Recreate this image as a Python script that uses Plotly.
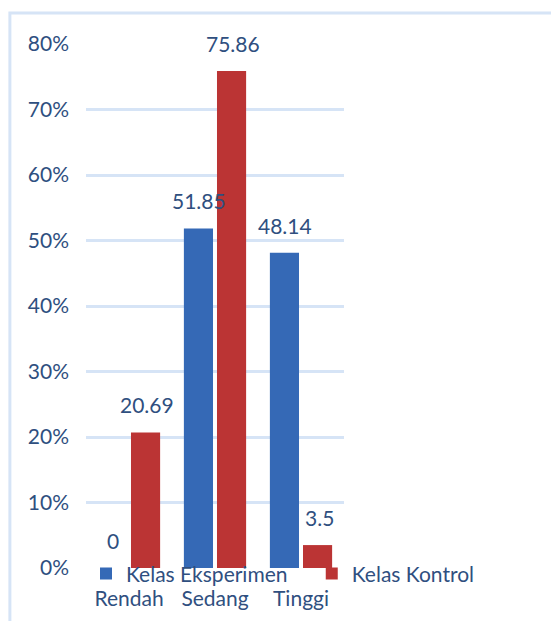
import plotly.graph_objects as go

categories = ["Rendah", "Sedang", "Tinggi"]
eksperimen = [0, 51.85, 48.14]
kontrol = [20.69, 75.86, 3.5]
series_names = ["Kelas Eksperimen", "Kelas Kontrol"]
y_ticks = [0, 10, 20, 30, 40, 50, 60, 70, 80]
y_tick_labels = ["0%", "10%", "20%", "30%", "40%", "50%", "60%", "70%", "80%"]

FONT = "Lato"
FS = 21
TXT = "#2f4f80"
BLUE = "#3569b6"
RED = "#bb3434"
GRID = "#d6e4f6"

fig = go.Figure()
fig.add_trace(go.Bar(x=categories, y=eksperimen, name=series_names[0],
                     marker=dict(color=BLUE, line=dict(width=0)), offsetgroup="a",
                     legend="legend"))
fig.add_trace(go.Bar(x=categories, y=kontrol, name=series_names[1],
                     marker=dict(color=RED, line=dict(width=0)), offsetgroup="b",
                     legend="legend2"))

# data labels
for vals, shift in ((eksperimen, -16), (kontrol, 18)):
    for c, v in zip(categories, vals):
        fig.add_annotation(x=c, y=v, xref="x", yref="y", text=f"{v:g}",
                           showarrow=False, yanchor="bottom", xshift=shift, yshift=13,
                           font=dict(family=FONT, size=FS, color=TXT))

# frame
fig.add_shape(type="rect", xref="paper", yref="paper",
              x0=-0.295, x1=1.9, y0=-0.2, y1=1.059,
              line=dict(color=GRID, width=3), fillcolor="rgba(0,0,0,0)", layer="below")

leg_common = dict(orientation="h", yanchor="top", xanchor="left",
                  font=dict(family=FONT, size=FS, color=TXT),
                  bgcolor="rgba(0,0,0,0)", itemwidth=30)
fig.update_layout(
    width=551, height=621,
    margin=dict(l=86, r=207, t=44, b=53, autoexpand=False),
    plot_bgcolor="white", paper_bgcolor="white",
    bargap=0.23, bargroupgap=0.12,
    font=dict(family=FONT, size=FS, color=TXT),
    showlegend=True,
    legend=dict(x=0.0, y=0.028, **leg_common),
    legend2=dict(x=0.875, y=0.028, **leg_common),
)
fig.update_xaxes(range=[-0.5, 2.5], showgrid=False, zeroline=False, showline=False,
                 ticks="", ticklabelstandoff=16,
                 tickfont=dict(family=FONT, size=FS, color=TXT))
fig.update_yaxes(range=[0, 80], tickvals=y_ticks, ticktext=y_tick_labels,
                 showgrid=True, gridcolor=GRID, gridwidth=3, zeroline=False,
                 showline=False, ticks="", ticklabelstandoff=16,
                 tickfont=dict(family=FONT, size=FS, color=TXT))

fig.write_html("out.html")
